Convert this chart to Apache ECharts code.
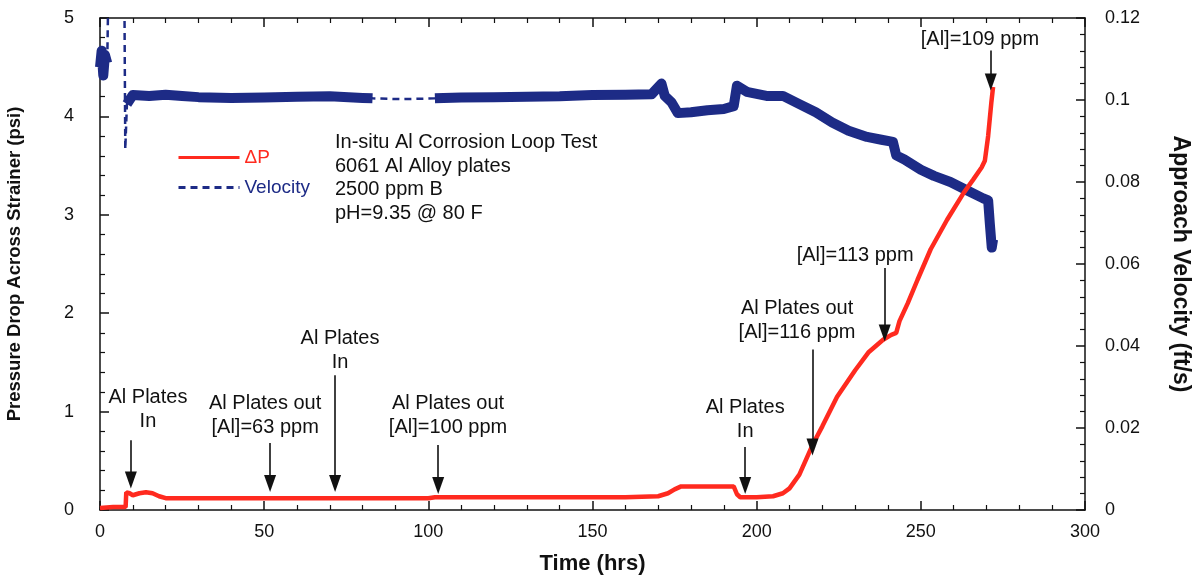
<!DOCTYPE html>
<html>
<head>
<meta charset="utf-8">
<script src="https://cdn.jsdelivr.net/npm/echarts@6/dist/echarts.min.js"></script>
<style>
  html, body { margin: 0; padding: 0; background: #fff; }
  #chart { width: 1195px; height: 578px; }
</style>
</head>
<body>
<div id="chart"></div>
<script>
// Al corrosion loop test: pressure drop (left) and approach velocity (right)

// pressure drop across strainer, psi
const dpTime = [0, 4, 7.8, 8, 9, 10, 12, 14, 16, 18, 20, 30, 50, 70, 90, 100, 102, 120, 140, 160, 170, 173, 175, 177, 185, 193, 194, 195, 200, 205, 208, 210, 213, 217, 220, 224.5, 230, 234, 238.5, 241, 242.5, 243.5, 246, 249, 253, 258, 263, 266, 268.5, 269.5, 270.5, 271.5, 272];
const dpVal = [0.02, 0.03, 0.03, 0.18, 0.17, 0.15, 0.17, 0.18, 0.17, 0.14, 0.12, 0.12, 0.12, 0.12, 0.12, 0.12, 0.13, 0.13, 0.13, 0.13, 0.14, 0.17, 0.21, 0.24, 0.24, 0.24, 0.16, 0.13, 0.13, 0.14, 0.17, 0.22, 0.36, 0.66, 0.85, 1.15, 1.42, 1.6, 1.73, 1.78, 1.80, 1.92, 2.1, 2.34, 2.65, 2.95, 3.22, 3.36, 3.48, 3.55, 3.8, 4.15, 4.3];

// approach velocity, ft/s; velSolid = 1 where the logged trace is dense (drawn as a band)
const velTime  = [0, 0.5, 1, 1.5, 2.2, 2.6, 7.4, 7.7, 8.2, 10, 15, 20, 25, 30, 40, 50, 60, 70, 80, 83, 92, 102, 110, 120, 130, 140, 150, 160, 168, 171, 172, 174, 176, 180, 185, 190, 193, 194, 197, 203, 208, 213, 218, 223, 228, 233.6, 238, 241.5, 242.5, 245, 250, 254, 259, 264, 269, 270.5, 271, 271.6, 272];
const velVal   = [0.108, 0.112, 0.106, 0.111, 0.109, 0.13, 0.13, 0.088, 0.099, 0.1012, 0.101, 0.1013, 0.101, 0.1007, 0.1005, 0.1006, 0.1008, 0.1009, 0.1005, 0.1004, 0.1002, 0.1004, 0.1006, 0.1007, 0.1008, 0.1009, 0.1012, 0.1013, 0.1014, 0.104, 0.101, 0.0995, 0.0968, 0.097, 0.0975, 0.0978, 0.0985, 0.1035, 0.102, 0.101, 0.101, 0.099, 0.097, 0.0945, 0.0925, 0.091, 0.0903, 0.0898, 0.0865, 0.0855, 0.083, 0.0815, 0.08, 0.078, 0.076, 0.0755, 0.07, 0.064, 0.066];
const velSolid = [1, 1, 1, 1, 1, 0, 0, 0, 1, 1, 1, 1, 1, 1, 1, 1, 1, 1, 1, 1, 0, 1, 1, 1, 1, 1, 1, 1, 1, 1, 1, 1, 1, 1, 1, 1, 1, 1, 1, 1, 1, 1, 1, 1, 1, 1, 1, 1, 1, 1, 1, 1, 1, 1, 1, 1, 1, 1, 1];

// annotation arrows: time, top and tip in psi
const arrowTime = [9.4, 51.8, 71.6, 103, 196.5, 217, 239, 271.3];
const arrowTop  = [0.71, 0.68, 1.37, 0.66, 0.64, 1.63, 2.46, 4.67];
const arrowTip  = [0.305, 0.27, 0.27, 0.25, 0.25, 0.64, 1.80, 4.35];

// annotation texts, centred at time / psi
const noteText = ['Al Plates\nIn', 'Al Plates out\n[Al]=63 ppm', 'Al Plates\nIn', 'Al Plates out\n[Al]=100 ppm', 'Al Plates\nIn', 'Al Plates out\n[Al]=116 ppm', '[Al]=113 ppm', '[Al]=109 ppm'];
const noteTime = [14.6, 50.3, 73.1, 106, 196.5, 212.3, 230, 268];
const notePsi  = [1.02, 0.965, 1.62, 0.965, 0.915, 1.93, 2.59, 4.78];

const xTicks = [0, 50, 100, 150, 200, 250, 300];
const psiTicks = [0, 1, 2, 3, 4, 5];
const velTicks = [0, 0.02, 0.04, 0.06, 0.08, 0.1, 0.12];

const infoLines = ['In-situ Al Corrosion Loop Test', '6061 Al Alloy plates', '2500 ppm B', 'pH=9.35 @ 80 F'];

const RED = '#ff2a1f';
const BLUE = '#1d2b86';
const FONT = '"Liberation Sans", Arial, sans-serif';

const chart = echarts.init(document.getElementById('chart'), null, { renderer: 'canvas' });

const axisCommon = {
    axisLine: { show: true, onZero: false, lineStyle: { color: '#111', width: 1.5 } },
    axisTick: { show: true, inside: true, length: 9, lineStyle: { color: '#111', width: 1.5 } },
    minorTick: { show: true, splitNumber: 5, length: 5, lineStyle: { color: '#111', width: 1.2 } },
    splitLine: { show: false },
    axisLabel: { color: '#111', fontSize: 18, fontFamily: FONT },
    nameTextStyle: { color: '#111', fontSize: 18, fontWeight: 'bold', fontFamily: FONT }
};

const dpData = dpTime.map((t, i) => [t, dpVal[i]]);
const velData = velTime.map((t, i) => [t, velVal[i]]);
const bandData = velTime.map((t, i) => [t, velSolid[i] ? velVal[i] : null]);

chart.setOption({
    animation: false,
    grid: { left: 100, right: 110, top: 18, bottom: 68, outerBoundsMode: 'none', containLabel: false },
    legend: {
        orient: 'vertical',
        left: 172, top: 143,
        itemWidth: 61, itemHeight: 18, itemGap: 11,
        itemStyle: { opacity: 0 },
        lineStyle: { width: 3 },
        data: [
            { name: 'ΔP', textStyle: { color: RED } },
            { name: 'Velocity', textStyle: { color: BLUE } }
        ],
        textStyle: { fontSize: 19, fontFamily: FONT }
    },
    graphic: [{
        type: 'text', left: 335, top: 131,
        style: { text: infoLines.join('\n'), fontSize: 20, lineHeight: 23.5, fill: '#111', fontFamily: FONT }
    }],
    xAxis: [
        Object.assign({}, axisCommon, {
            type: 'value', min: 0, max: 300, interval: 50,
            name: 'Time (hrs)', nameLocation: 'middle', nameGap: 43,
            nameTextStyle: Object.assign({}, axisCommon.nameTextStyle, { fontSize: 22 }),
            axisLabel: Object.assign({}, axisCommon.axisLabel, { margin: 13, customValues: xTicks })
        }),
        Object.assign({}, axisCommon, {
            type: 'value', min: 0, max: 300, interval: 50, position: 'top',
            axisLabel: { show: false }
        })
    ],
    yAxis: [
        Object.assign({}, axisCommon, {
            type: 'value', min: 0, max: 5, interval: 1, position: 'left',
            name: 'Pressure Drop Across Strainer (psi)', nameLocation: 'middle', nameGap: 76,
            nameTextStyle: Object.assign({}, axisCommon.nameTextStyle, { fontSize: 18.5 }),
            axisLabel: Object.assign({}, axisCommon.axisLabel, { margin: 26, customValues: psiTicks })
        }),
        Object.assign({}, axisCommon, {
            type: 'value', min: 0, max: 0.12, interval: 0.02, position: 'right',
            name: 'Approach Velocity (ft/s)', nameLocation: 'middle', nameGap: 84, nameRotate: -90,
            nameTextStyle: Object.assign({}, axisCommon.nameTextStyle, { fontSize: 23 }),
            axisLabel: Object.assign({}, axisCommon.axisLabel, { margin: 20, customValues: velTicks })
        })
    ],
    series: [
        {
            name: 'Velocity', type: 'line', yAxisIndex: 1, data: velData,
            symbol: 'none', connectNulls: true,
            lineStyle: { color: BLUE, width: 2.5, type: [7, 5] },
            itemStyle: { color: BLUE }, z: 2
        },
        {
            name: 'Velocity trace', type: 'line', yAxisIndex: 1, data: bandData,
            symbol: 'none', connectNulls: false,
            lineStyle: { color: BLUE, width: 10, join: 'round' },
            itemStyle: { color: BLUE }, z: 3
        },
        {
            name: 'ΔP', type: 'line', yAxisIndex: 0, data: dpData,
            symbol: 'none',
            lineStyle: { color: RED, width: 4.5 },
            itemStyle: { color: RED }, z: 4,
            markLine: {
                silent: true,
                symbol: ['none', 'triangle'],
                symbolSize: [12, 17],
                symbolRotate: 180,
                lineStyle: { color: '#111', width: 1.6, type: 'solid' },
                label: { show: false },
                data: arrowTime.map((t, i) => [
                    { coord: [t, arrowTop[i]] },
                    { coord: [t, arrowTip[i]] }
                ])
            },
            markPoint: {
                silent: true,
                symbol: 'circle', symbolSize: 0,
                label: {
                    show: true, position: 'inside', color: '#111',
                    fontSize: 20, lineHeight: 24, fontFamily: FONT,
                    formatter: p => p.name
                },
                data: noteText.map((s, i) => ({ name: s, coord: [noteTime[i], notePsi[i]] }))
            }
        }
    ]
});
</script>
</body>
</html>
